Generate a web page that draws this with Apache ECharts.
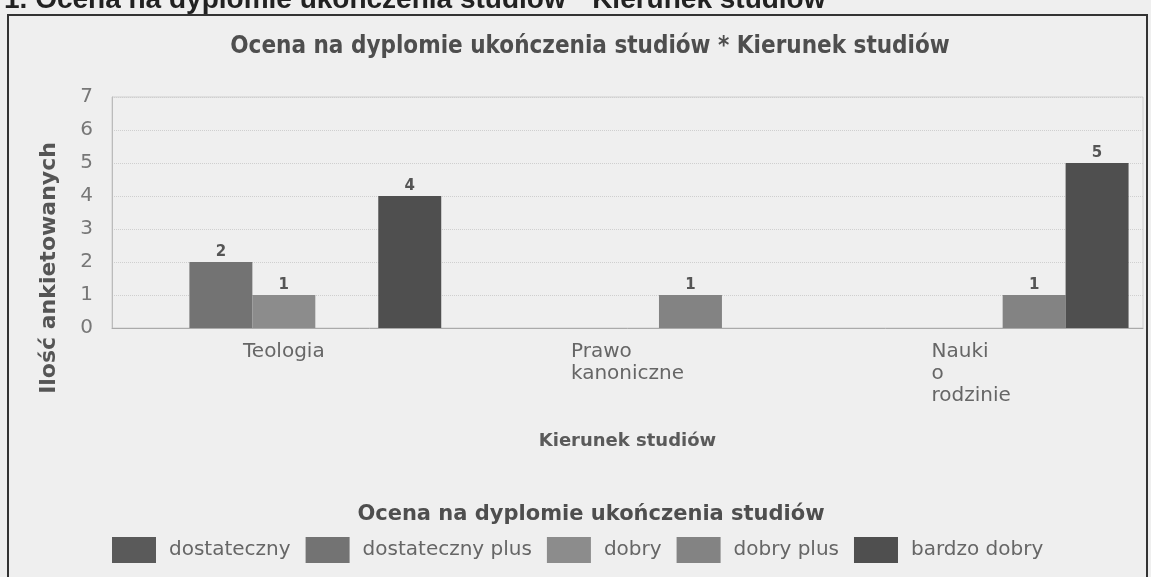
<!DOCTYPE html>
<html>
<head>
<meta charset="utf-8">
<script src="https://cdn.jsdelivr.net/npm/echarts@6.0.0/dist/echarts.min.js"></script>
<style>
  html, body { margin: 0; padding: 0; background: #efefef; }
  #chart { width: 1151px; height: 577px; }
</style>
</head>
<body>
<div id="chart"></div>
<script>
// kierunki studiów (oś X)
const kierunki = ['Teologia', 'Prawo\nkanoniczne', 'Nauki\no\nrodzinie'];
// oceny na dyplomie (serie)
const oceny = ['dostateczny', 'dostateczny plus', 'dobry', 'dobry plus', 'bardzo dobry'];
const dostateczny = [0, 0, 0];
const dostatecznyPlus = [2, 0, 0];
const dobry = [1, 0, 0];
const dobryPlus = [0, 1, 1];
const bardzoDobry = [4, 0, 5];
const wartosci = [dostateczny, dostatecznyPlus, dobry, dobryPlus, bardzoDobry];
const kolory = ['#5a5a5a', '#737373', '#8c8c8c', '#838383', '#4f4f4f'];

const myChart = echarts.init(document.getElementById('chart'));

const series = oceny.map((name, i) => ({
  name: name,
  type: 'bar',
  data: wartosci[i],
  barGap: '0%',
  barCategoryGap: '8.4%',
  itemStyle: {
    color: kolory[i],
  },
  label: {
    show: true,
    position: 'top',
    distance: 2,
    fontFamily: 'DejaVu Sans',
    fontSize: 15,
    fontWeight: 'bold',
    color: '#555',
    formatter: p => (p.value > 0 ? p.value : ''),
  },
}));

let option = {
  backgroundColor: '#efefef',
  animation: false,
  title: [
    {
      text: 'Ocena na dyplomie ukończenia studiów * Kierunek studiów',
      left: 585,
      textAlign: 'center',
      top: 30,
      textStyle: {
        fontFamily: 'DejaVu Sans Condensed',
        fontWeight: 'bold',
        fontSize: 24,
        color: '#4e4e4e',
      },
    },
    {
      text: 'Ocena na dyplomie ukończenia studiów',
      left: 586,
      textAlign: 'center',
      top: 499,
      textStyle: {
        fontFamily: 'DejaVu Sans',
        fontWeight: 'bold',
        fontSize: 21,
        color: '#4e4e4e',
      },
    },
  ],
  graphic: [
    {
      type: 'text',
      x: 4,
      y: 0,
      style: {
        text: '1. Ocena na dyplomie ukończenia studiów * Kierunek studiów',
        font: 'bold 28px "Liberation Sans"',
        fill: '#222',
        align: 'left',
        verticalAlign: 'middle',
      },
    },
    {
      type: 'rect',
      shape: { x: 8, y: 15, width: 1139, height: 600 },
      style: { fill: 'none', stroke: '#333', lineWidth: 2 },
      z: 10,
    },
    {
      type: 'text',
      x: 49,
      y: 268,
      rotation: Math.PI / 2,
      style: {
        text: 'Ilość ankietowanych',
        font: 'bold 22px "DejaVu Sans"',
        fill: '#555',
        align: 'center',
        verticalAlign: 'middle',
      },
    },
  ],
  legend: {
    data: oceny,
    left: 112,
    top: 537,
    padding: 0,
    icon: 'rect',
    itemWidth: 44,
    itemHeight: 26,
    itemGap: 15,
    textStyle: {
      fontFamily: 'DejaVu Sans',
      fontSize: 20,
      color: '#666',
      padding: [0, 0, 0, 8],
    },
  },
  grid: {
    left: 112,
    right: 8,
    top: 97,
    bottom: 249,
    show: true,
    borderColor: '#cfcfcf',
    borderWidth: 1,
  },
  xAxis: {
    type: 'category',
    data: kierunki,
    name: 'Kierunek studiów',
    nameLocation: 'middle',
    nameGap: 104,
    nameTextStyle: {
      fontFamily: 'DejaVu Sans',
      fontWeight: 'bold',
      fontSize: 18,
      color: '#5a5a5a',
    },
    axisLine: { lineStyle: { color: '#aaa', width: 1 } },
    axisTick: { length: 5, lineStyle: { color: '#bbb' } },
    axisLabel: {
      margin: 13,
      formatter: value =>
        value
          .split('\n')
          .map(s => '{a|' + s + '}')
          .join('\n'),
      rich: {
        a: {
          fontFamily: 'DejaVu Sans',
          fontSize: 20,
          lineHeight: 22,
          color: '#666',
          align: 'left',
        },
      },
    },
  },
  yAxis: {
    type: 'value',
    min: 0,
    max: 7,
    interval: 1,
    axisLine: { show: true, lineStyle: { color: '#bbb' } },
    axisTick: { show: false },
    axisLabel: {
      margin: 19,
      fontFamily: 'DejaVu Sans',
      fontSize: 20,
      color: '#777',
    },
    splitLine: { lineStyle: { color: '#cfcfcf', type: 'dotted' } },
  },
  series: series,
};

myChart.setOption(option);
</script>
</body>
</html>
